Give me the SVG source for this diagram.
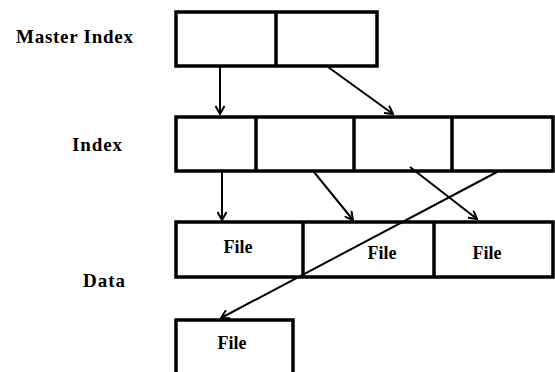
<svg xmlns="http://www.w3.org/2000/svg" width="555" height="372" viewBox="0 0 555 372">
<defs>
<style>
.box{fill:#fff;stroke:#000;stroke-width:3.5}
.div{stroke:#000;stroke-width:3.5}
.lbl{font-family:"Liberation Serif","Times New Roman",serif;font-weight:bold;font-size:19px;fill:#000}
.ftx{font-family:"Liberation Serif","Times New Roman",serif;font-weight:bold;font-size:18px;fill:#000;text-anchor:middle}
.arr{stroke:#000;stroke-width:2;fill:none;marker-end:url(#ah)}
</style>
<marker id="ah" viewBox="0 0 10 10" refX="9" refY="5" markerWidth="10" markerHeight="10" markerUnits="userSpaceOnUse" orient="auto">
<path d="M1,0.5 L9,5 L1,9.5" fill="none" stroke="#000" stroke-width="2"/>
</marker>
</defs>
<g id="labels">
<text class="lbl" x="16" y="43" textLength="117">Master Index</text>
<text class="lbl" x="72" y="151" textLength="50">Index</text>
<text class="lbl" x="83" y="287" textLength="42">Data</text>
</g>
<g id="master">
<rect class="box" x="176" y="12" width="201" height="54"/>
<line class="div" x1="276" y1="12" x2="276" y2="66"/>
</g>
<g id="index">
<rect class="box" x="176" y="117" width="377" height="54"/>
<line class="div" x1="256" y1="117" x2="256" y2="171"/>
<line class="div" x1="354" y1="117" x2="354" y2="171"/>
<line class="div" x1="452" y1="117" x2="452" y2="171"/>
</g>
<g id="data">
<rect class="box" x="176" y="222" width="377" height="55"/>
<line class="div" x1="303" y1="222" x2="303" y2="277"/>
<line class="div" x1="434" y1="222" x2="434" y2="277"/>
<text class="ftx" x="238" y="253">File</text>
<text class="ftx" x="382" y="259">File</text>
<text class="ftx" x="487" y="259">File</text>
</g>
<g id="overflow">
<rect class="box" x="176" y="320" width="117" height="60"/>
<text class="ftx" x="232" y="349">File</text>
</g>
<g id="connectors">
<line class="arr" x1="220" y1="67" x2="220" y2="114"/>
<line class="arr" x1="328" y1="67" x2="393" y2="114"/>
<line class="arr" x1="222" y1="172" x2="222" y2="220"/>
<line class="arr" x1="314" y1="172" x2="353" y2="220"/>
<line class="arr" x1="410" y1="167" x2="477" y2="219"/>
<line class="arr" x1="497" y1="172" x2="221" y2="318"/>
</g>
</svg>
